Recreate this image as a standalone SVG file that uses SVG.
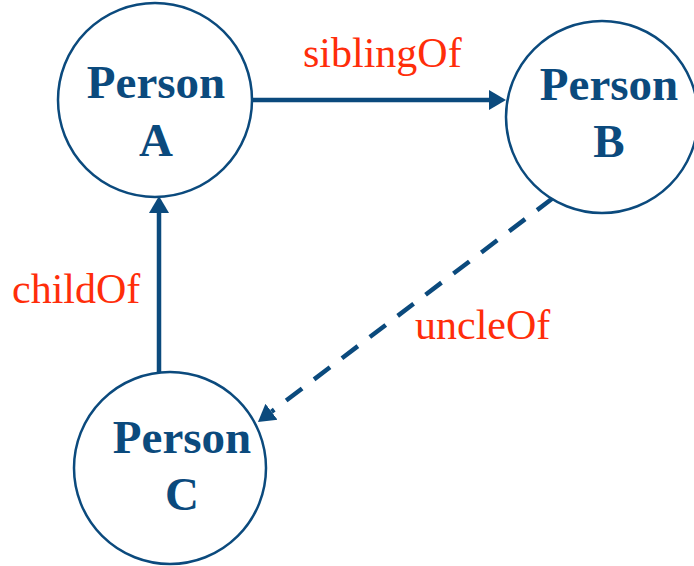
<svg xmlns="http://www.w3.org/2000/svg" width="694" height="566" viewBox="0 0 694 566">
  <style>
    .node circle { fill: #ffffff; stroke: #0b4a7d; stroke-width: 2.5; }
    .node text { font-family: "Liberation Serif", "Times New Roman", serif; font-weight: bold; font-size: 47px; fill: #0b4a7d; text-anchor: middle; }
    .edge { stroke: #0b4a7d; stroke-width: 4.5; fill: none; }
    .dashed { stroke-dasharray: 20 15; }
    .label { font-family: "Liberation Serif", "Times New Roman", serif; font-size: 42px; fill: #ff2d0a; }
  </style>
  <defs>
    <marker id="arrow" markerUnits="userSpaceOnUse" markerWidth="18" markerHeight="22" viewBox="0 -11 18 22" refX="0" refY="0" orient="auto">
      <path d="M0,-10 L17,0 L0,10 z" fill="#0b4a7d"/>
    </marker>
  </defs>

  <g id="connectors">
    <line class="edge" x1="253" y1="100" x2="489" y2="100" marker-end="url(#arrow)"/>
    <line class="edge" x1="159" y1="375" x2="159" y2="213" marker-end="url(#arrow)"/>
    <line class="edge dashed" x1="553" y1="198" x2="271.5" y2="411.7" marker-end="url(#arrow)"/>
    <text class="label" x="303" y="67">siblingOf</text>
    <text class="label" x="12" y="303">childOf</text>
    <text class="label" x="415" y="339">uncleOf</text>
  </g>

  <g id="personA" class="node">
    <circle cx="155" cy="100" r="97"/>
    <text x="156" y="98">Person</text>
    <text x="156" y="156">A</text>
  </g>
  <g id="personB" class="node">
    <circle cx="602" cy="117" r="96"/>
    <text x="609" y="100">Person</text>
    <text x="609" y="157">B</text>
  </g>
  <g id="personC" class="node">
    <circle cx="170" cy="468" r="96"/>
    <text x="182" y="453">Person</text>
    <text x="182" y="510">C</text>
  </g>
</svg>
